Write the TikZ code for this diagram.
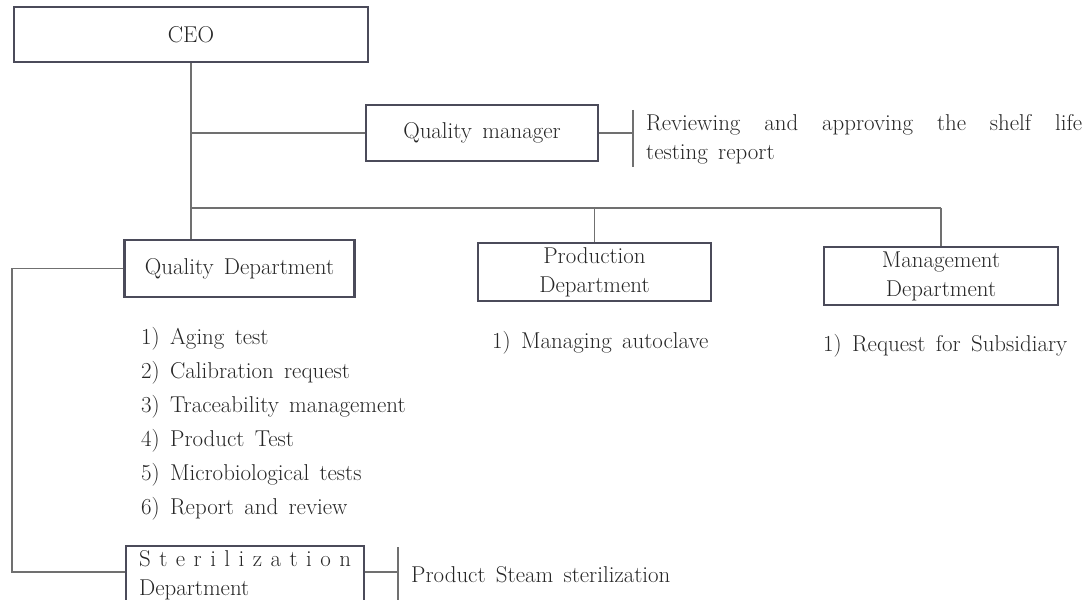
\documentclass[tikz,border=0pt]{standalone}
\usepackage{fontspec}
\setmainfont{Latin Modern Roman}
\definecolor{boxc}{HTML}{4B4B5A}
\definecolor{linec}{HTML}{707070}
\definecolor{txt}{HTML}{262626}
\newcommand{\myfs}{\fontsize{23}{30}\selectfont\spaceskip=0.45em plus 0.3em minus 0.1em\relax}
\begin{document}
\begin{tikzpicture}[x=1bp,y=-1bp,
  box/.style={draw=boxc, line width=2.2bp, rectangle, inner sep=0pt, text=txt, font=\myfs, align=center},
  conn/.style={draw=linec, line width=1.1bp},
  lbl/.style={text=txt, font=\myfs, inner sep=0pt, anchor=base west}]
\useasboundingbox (0,0) rectangle (1082,600);
\clip (0,0) rectangle (1082,600);
% boxes
\node[box, minimum width=354bp, minimum height=55bp] (ceo) at (191,34.5) {CEO};
\node[box, minimum width=232bp, minimum height=56bp] (qm) at (482,133) {Quality manager};
\node[box, minimum width=230bp, minimum height=57bp] (qd) at (239.5,268.5) {Quality Department};
\node[box, minimum width=233bp, minimum height=58bp, font=\fontsize{23}{29}\selectfont] (pd) at (594.5,272) {Production\\Department};
\node[box, minimum width=234bp, minimum height=58bp, font=\fontsize{23}{29}\selectfont] (md) at (941,276) {Management\\Department};
\node[box, anchor=north west, minimum width=238bp, minimum height=58bp, align=left, text width=212bp, inner xsep=13bp, font=\fontsize{23}{29}\selectfont] (sd) at (125,545) {{\addfontfeature{LetterSpace=37}Sterilization}\\Department};
% coordinates
\coordinate (bus) at (191,208);
\coordinate (qmbar) at (633,133);
\coordinate (qmbarT) at (633,110);
\coordinate (qmbarB) at (633,167);
\coordinate (lx) at (12,0);
\coordinate (sdbar) at (398,572);
\coordinate (sdbarT) at (398,547);
\coordinate (sdbarB) at (398,602);
% connectors
\draw[conn] (ceo.south) -- (ceo.south |- qd.north);
\draw[conn] (ceo.south |- qm.west) -- (qm.west);
\draw[conn] (qm.east) -- (qmbar);
\draw[conn] (qmbarT) -- (qmbarB);
\draw[conn] (bus) -- (md.north |- bus);
\draw[conn] (pd.north |- bus) -- (pd.north);
\draw[conn] (md.north |- bus) -- (md.north);
\draw[conn] (qd.west) -- (qd.west -| lx) -- (lx |- sdbar) -- (sd.west |- sdbar);
\draw[conn] (sd.east |- sdbar) -- (sdbar);
\draw[conn] (sdbarT) -- (sdbarB);
% texts
\node[lbl] (rev1) at (646,131) {\makebox[436bp][s]{Reviewing and approving the shelf life}};
\node[lbl] (rev2) at (646,160) {testing report};
\node[lbl] (q1) at (141,344) {1) Aging test};
\node[lbl] (q2) at (141,378) {2) Calibration request};
\node[lbl] (q3) at (141,412) {3) Traceability management};
\node[lbl] (q4) at (141,446) {4) Product Test};
\node[lbl] (q5) at (141,480) {5) Microbiological tests};
\node[lbl] (q6) at (141,514) {6) Report and review};
\node[lbl] (p1) at (492,348) {1) Managing autoclave};
\node[lbl] (m1) at (823,351) {1) Request for Subsidiary};
\node[lbl] (s1) at (411,582) {Product Steam sterilization};
\end{tikzpicture}
\end{document}
